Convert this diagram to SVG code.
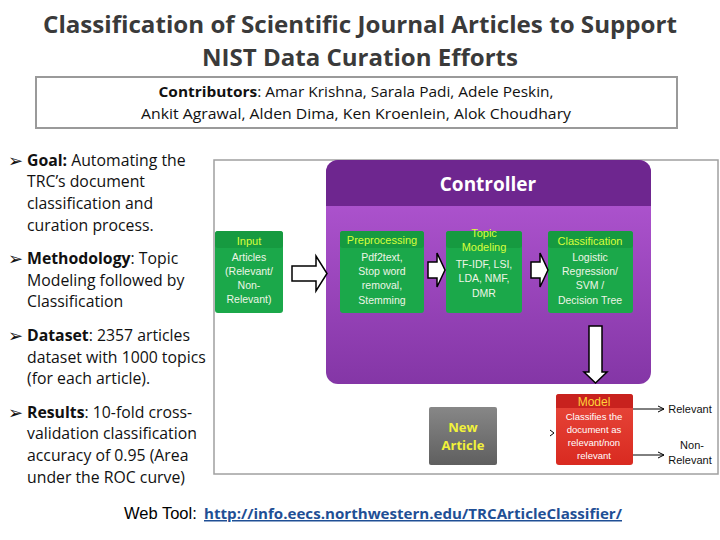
<svg xmlns="http://www.w3.org/2000/svg" width="720" height="540" viewBox="0 0 720 540">
<defs>
<style>
.title{font-family:"Open Sans","Noto Sans","Liberation Sans",sans-serif;font-weight:bold;font-size:24px;fill:#3a3a3a;text-anchor:middle}
.contrib{font-family:"Open Sans","Noto Sans","Liberation Sans",sans-serif;font-size:14.5px;fill:#111;text-anchor:middle}
.bul{font-family:"Open Sans","Noto Sans","Liberation Sans",sans-serif;font-size:15.8px;fill:#111}
.arr{font-family:"DejaVu Sans",sans-serif;font-size:18px}
.b{font-weight:bold}
.hdr{font-family:"Liberation Sans","Noto Sans",sans-serif;font-size:11px;fill:#D8FF3A;text-anchor:middle}
.body{font-family:"Liberation Sans","Noto Sans",sans-serif;font-size:10.5px;fill:#EEF5E6;text-anchor:middle}
.green{fill:#1BA84A}
.greenh{fill:#169A40}
.blk{fill:#fff;stroke:#000;stroke-width:1.5}
.out{font-family:"Liberation Sans","Noto Sans",sans-serif;font-size:11px;fill:#111;text-anchor:middle}
</style>
<linearGradient id="purp" x1="0" y1="0" x2="0" y2="1">
<stop offset="0" stop-color="#B559D6"/>
<stop offset="1" stop-color="#8436A6"/>
</linearGradient>
<linearGradient id="red" x1="0" y1="0" x2="0" y2="1">
<stop offset="0" stop-color="#E8483C"/>
<stop offset="1" stop-color="#D92A20"/>
</linearGradient>
<linearGradient id="gray" x1="0" y1="0" x2="0" y2="1">
<stop offset="0" stop-color="#878787"/>
<stop offset="1" stop-color="#5F5F5F"/>
</linearGradient>
<marker id="ah" markerWidth="8" markerHeight="8" refX="7" refY="4" orient="auto" markerUnits="userSpaceOnUse">
<path d="M1,1 L7,4 L1,7" fill="none" stroke="#000" stroke-width="1"/>
</marker>
</defs>
<rect width="720" height="540" fill="#fff"/>

<g id="title">
<text class="title" x="360" y="33" textLength="634" lengthAdjust="spacingAndGlyphs">Classification of Scientific Journal Articles to Support</text>
<text class="title" x="360" y="66" textLength="316" lengthAdjust="spacingAndGlyphs">NIST Data Curation Efforts</text>
</g>

<g id="contributors">
<rect x="36" y="77" width="641" height="51" fill="#fff" stroke="#9a9a9a" stroke-width="2"/>
<text class="contrib" x="356" y="97" textLength="395" lengthAdjust="spacingAndGlyphs"><tspan class="b">Contributors</tspan>: Amar Krishna, Sarala Padi, Adele Peskin,</text>
<text class="contrib" x="356" y="119" textLength="430" lengthAdjust="spacingAndGlyphs">Ankit Agrawal, Alden Dima, Ken Kroenlein, Alok Choudhary</text>
</g>

<g id="bullets">
<text class="bul arr" x="8" y="167">➢</text>
<text class="bul" x="27" y="166"><tspan class="b">Goal:</tspan> Automating the</text>
<text class="bul" x="27" y="187">TRC’s document</text>
<text class="bul" x="27" y="209">classification and</text>
<text class="bul" x="27" y="231">curation process.</text>
<text class="bul arr" x="8" y="265">➢</text>
<text class="bul" x="27" y="264"><tspan class="b">Methodology</tspan>: Topic</text>
<text class="bul" x="27" y="286">Modeling  followed by</text>
<text class="bul" x="27" y="307">Classification</text>
<text class="bul arr" x="8" y="342">➢</text>
<text class="bul" x="27" y="341"><tspan class="b">Dataset</tspan>: 2357 articles</text>
<text class="bul" x="27" y="363">dataset with 1000 topics</text>
<text class="bul" x="27" y="384">(for each article).</text>
<text class="bul arr" x="8" y="419">➢</text>
<text class="bul" x="27" y="418"><tspan class="b">Results</tspan>: 10-fold cross-</text>
<text class="bul" x="27" y="439">validation classification</text>
<text class="bul" x="27" y="461">accuracy of 0.95 (Area</text>
<text class="bul" x="27" y="483">under the ROC curve)</text>
</g>

<g id="frame">
<rect x="214" y="160" width="504" height="314" fill="#fff" stroke="#a0a0a0" stroke-width="1.5"/>
</g>

<g id="controller">
<rect x="326" y="160" width="325" height="224" rx="12" fill="url(#purp)"/>
<path d="M326,206 V172 A12,12 0 0 1 338,160 H639 A12,12 0 0 1 651,172 V206 Z" fill="#6E268F"/>
<text x="488" y="191" font-family="Open Sans,Noto Sans,Liberation Sans,sans-serif" font-weight="bold" font-size="19" fill="#fff" text-anchor="middle">Controller</text>
</g>

<g id="input">
<rect x="215" y="231" width="68" height="82" rx="3" class="green"/>
<rect x="215" y="231" width="68" height="17" rx="3" class="greenh"/>
<text class="hdr" x="249" y="245">Input</text>
<text class="body" x="249" y="261">Articles</text>
<text class="body" x="249" y="275">(Relevant/</text>
<text class="body" x="249" y="289">Non-</text>
<text class="body" x="249" y="303">Relevant)</text>
</g>

<g id="preprocessing">
<rect x="340" y="231" width="84" height="82" rx="3" class="green"/>
<rect x="340" y="231" width="84" height="17" rx="3" class="greenh"/>
<text class="hdr" x="382" y="244" font-size="10">Preprocessing</text>
<text class="body" x="382" y="261">Pdf2text,</text>
<text class="body" x="382" y="275">Stop word</text>
<text class="body" x="382" y="289">removal,</text>
<text class="body" x="382" y="304">Stemming</text>
</g>

<g id="topic">
<rect x="446" y="231" width="76" height="82" rx="3" class="green"/>
<rect x="446" y="231" width="76" height="17" rx="3" class="greenh"/>
<text class="hdr" x="484" y="237" font-size="10.5">Topic</text>
<text class="hdr" x="484" y="251" font-size="10.5">Modeling</text>
<text class="body" x="484" y="268">TF-IDF, LSI,</text>
<text class="body" x="484" y="282">LDA, NMF,</text>
<text class="body" x="484" y="297">DMR</text>
</g>

<g id="classification">
<rect x="548" y="231" width="85" height="82" rx="3" class="green"/>
<rect x="548" y="231" width="85" height="17" rx="3" class="greenh"/>
<text class="hdr" x="590" y="245">Classification</text>
<text class="body" x="590" y="261">Logistic</text>
<text class="body" x="590" y="275">Regression/</text>
<text class="body" x="590" y="289">SVM /</text>
<text class="body" x="590" y="304">Decision Tree</text>
</g>

<g id="new-article">
<rect x="429" y="407" width="68" height="58" rx="2" fill="url(#gray)"/>
<text x="463" y="432" font-family="Open Sans,Noto Sans,Liberation Sans,sans-serif" font-weight="bold" font-size="13" fill="#F2F23A" text-anchor="middle">New</text>
<text x="463" y="450" font-family="Open Sans,Noto Sans,Liberation Sans,sans-serif" font-weight="bold" font-size="13" fill="#F2F23A" text-anchor="middle">Article</text>
</g>

<g id="model">
<rect x="556" y="394" width="77" height="71" rx="3" fill="url(#red)"/>
<path d="M556,408 V397 A3,3 0 0 1 559,394 H630 A3,3 0 0 1 633,397 V408 Z" fill="#C8221E"/>
<text x="594" y="406" font-family="Liberation Sans,Noto Sans,sans-serif" font-size="12" fill="#FFD23A" text-anchor="middle">Model</text>
<text x="594" y="420" font-family="Liberation Sans,Noto Sans,sans-serif" font-size="9.5" fill="#fff" text-anchor="middle">Classifies  the</text>
<text x="594" y="433" font-family="Liberation Sans,Noto Sans,sans-serif" font-size="9.5" fill="#fff" text-anchor="middle">document  as</text>
<text x="594" y="446" font-family="Liberation Sans,Noto Sans,sans-serif" font-size="9.5" fill="#fff" text-anchor="middle">relevant/non</text>
<text x="594" y="459" font-family="Liberation Sans,Noto Sans,sans-serif" font-size="9.5" fill="#fff" text-anchor="middle">relevant</text>
</g>

<g id="outputs">
<text class="out" x="690" y="413">Relevant</text>
<text class="out" x="692" y="449">Non-</text>
<text class="out" x="690" y="464">Relevant</text>
</g>

<g id="connectors">
<path class="blk" d="M292,266 H316 V256 L327,273.5 L316,291 V281 H292 Z"/>
<path class="blk" d="M428,262 H437 V253 L445,270 L437,287 V278 H428 Z"/>
<path class="blk" d="M531,262 H540 V253 L548,270 L540,287 V278 H531 Z"/>
<path class="blk" d="M589,326 H602 V372 H607 L595.5,383 L584,372 H589 Z"/>
<path d="M550,430 L554,433 L550,436" fill="none" stroke="#000" stroke-width="1"/>
<line x1="633" y1="409" x2="664" y2="409" stroke="#000" stroke-width="1" marker-end="url(#ah)"/>
<line x1="633" y1="455" x2="664" y2="455" stroke="#000" stroke-width="1" marker-end="url(#ah)"/>
</g>

<g id="webtool">
<text x="124" y="519" font-family="Liberation Sans,Noto Sans,sans-serif" font-size="16.5" fill="#000">Web Tool:</text>
<text x="204" y="519" font-family="Open Sans,Noto Sans,Liberation Sans,sans-serif" font-size="15" font-weight="bold" fill="#1F4F95" text-decoration="underline" textLength="418" lengthAdjust="spacingAndGlyphs">http://info.eecs.northwestern.edu/TRCArticleClassifier/</text>
</g>
</svg>
